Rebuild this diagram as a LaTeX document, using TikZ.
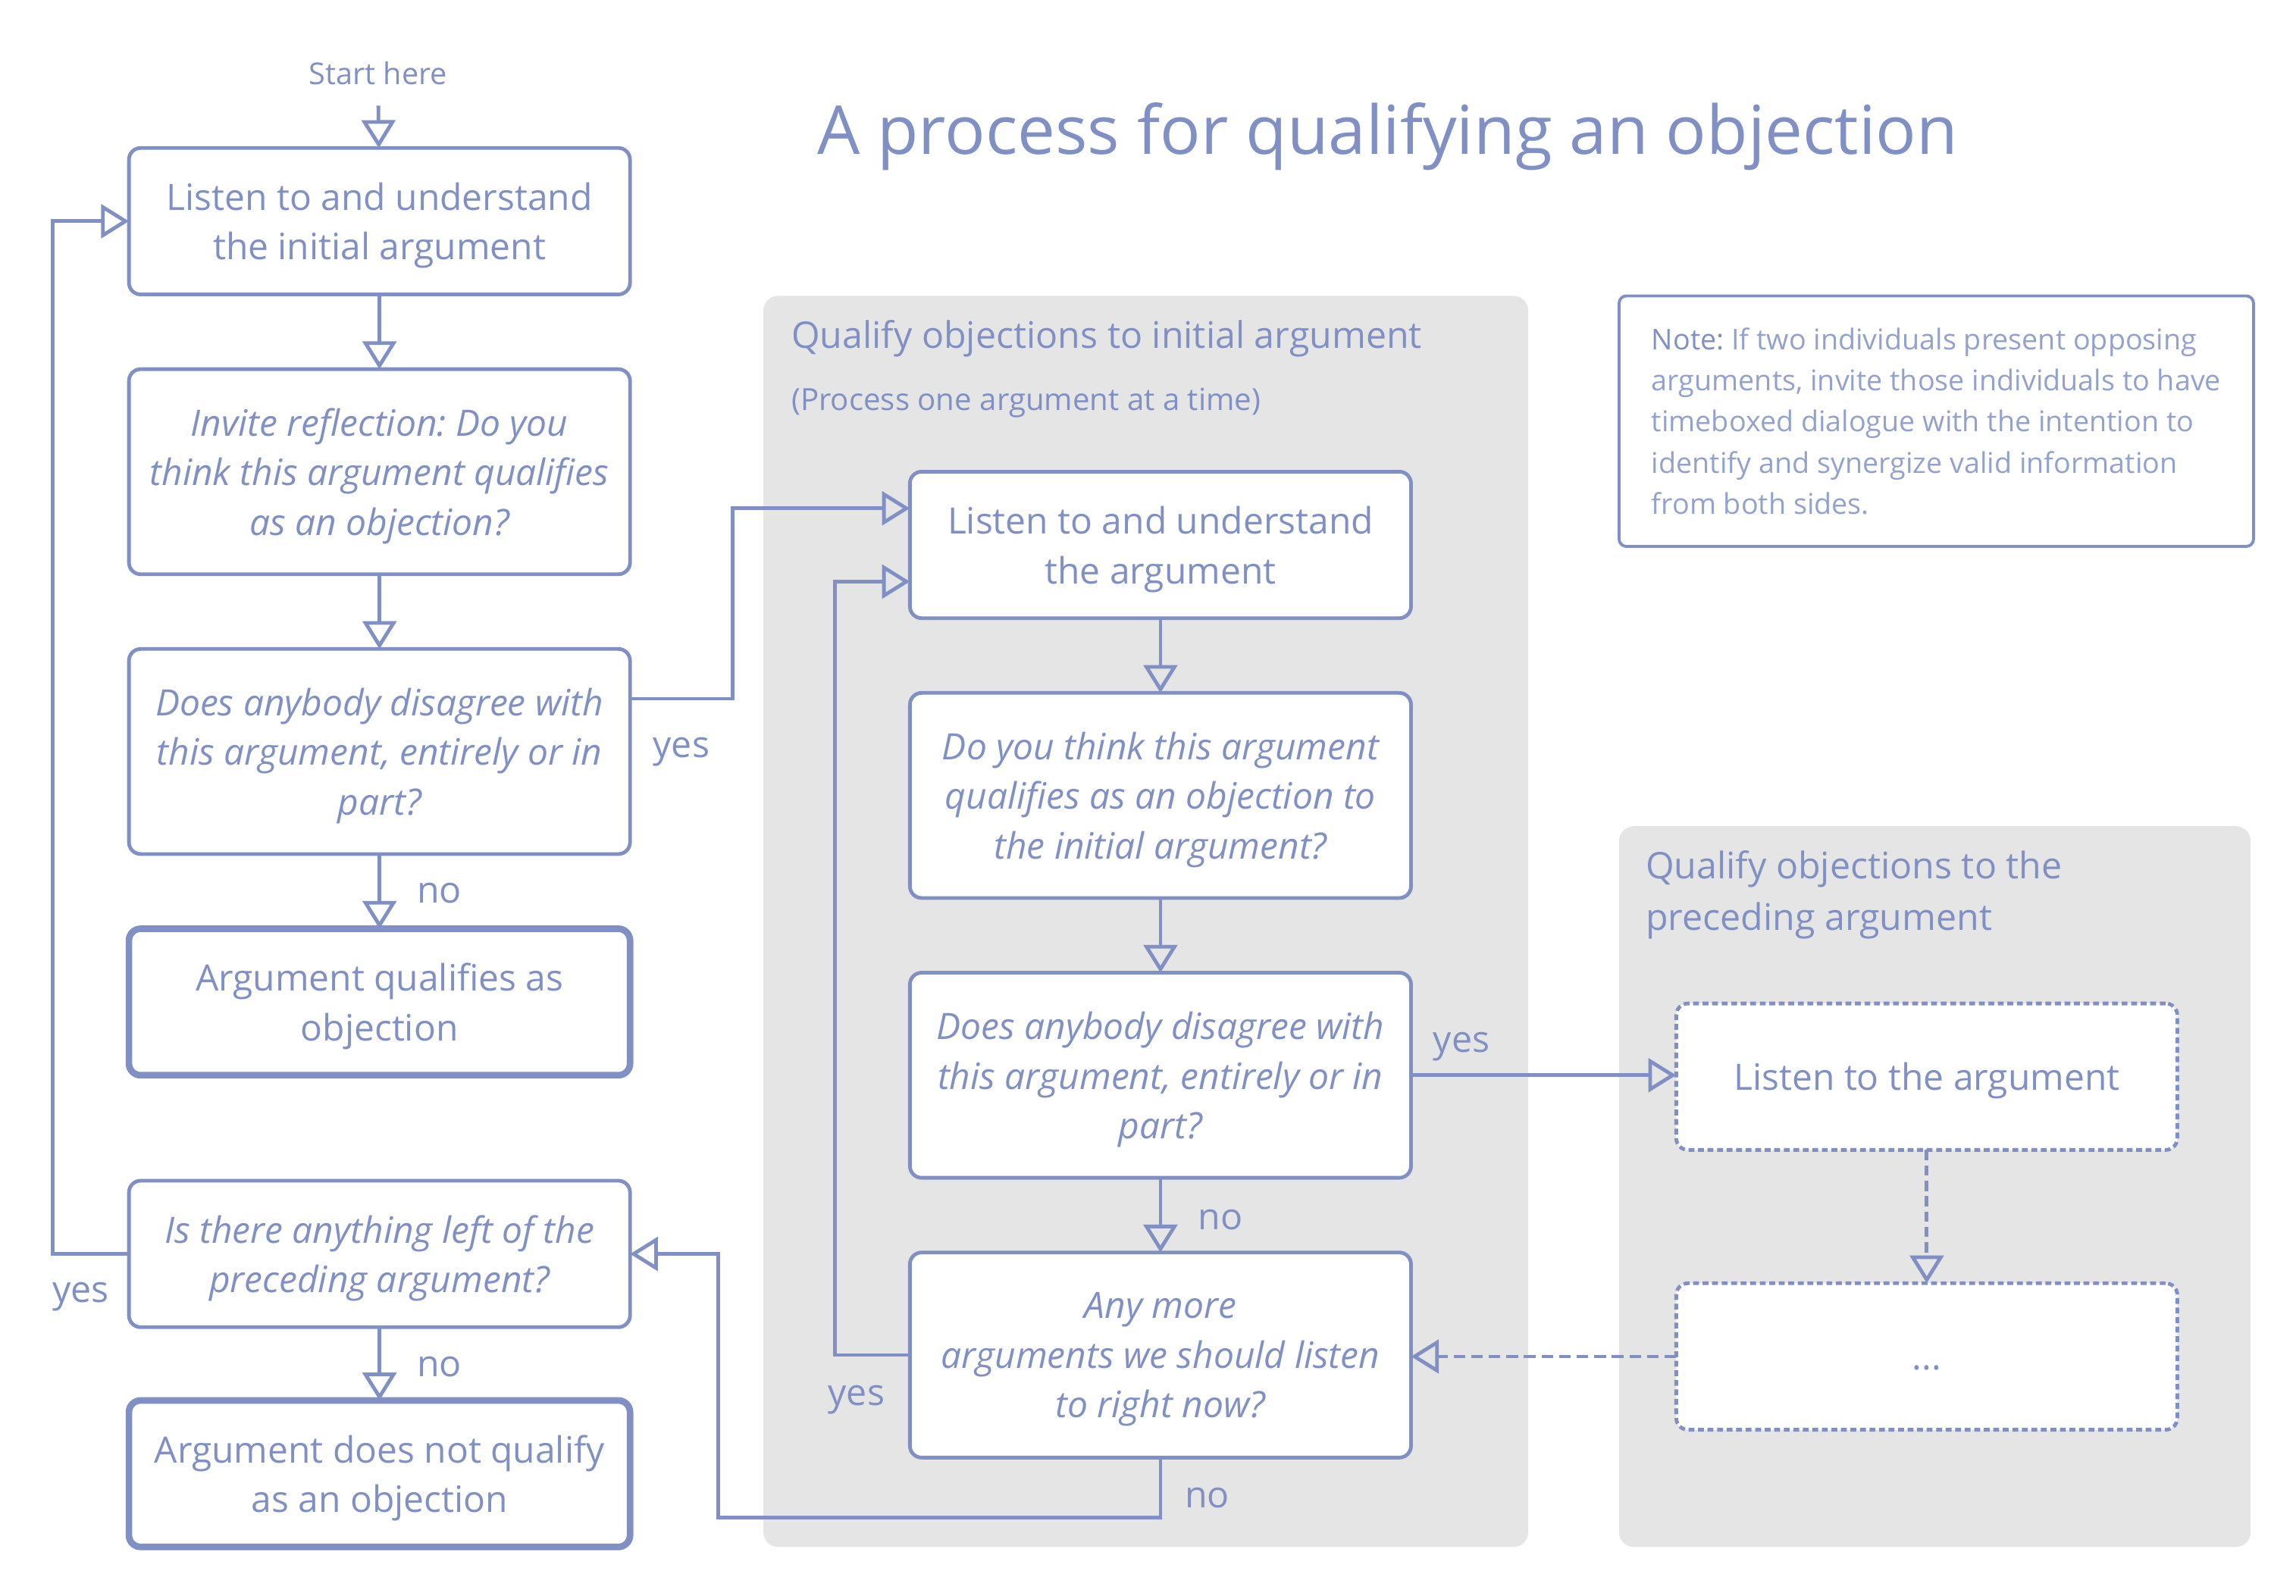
\documentclass[tikz,border=0pt]{standalone}
\usepackage{fontspec}
\setmainfont{Open Sans}
\usetikzlibrary{arrows.meta, positioning}
\definecolor{flowblue}{HTML}{8090C4}
\definecolor{panelgray}{HTML}{E5E5E5}
\tikzset{>={Triangle[open, length = 19pt, width = 23pt]}}
\tikzstyle{stepbox} = [rectangle, rounded corners = 8pt, draw = flowblue, fill = white, line width = 2.5pt, outer sep = 0pt, text = flowblue, minimum width = 342pt, align = center, minimum height = 100pt, text depth = -2pt, font = \fontsize{24.8}{34}\selectfont]
\tikzstyle{question} = [stepbox, minimum height = 140pt, font = \fontsize{24.8}{34}\selectfont\itshape]
\tikzstyle{outcome} = [stepbox, line width = 4.5pt]
\tikzstyle{laterbox} = [stepbox, dash pattern = on 4pt off 2.5pt]
\tikzstyle{answer} = [text = flowblue, font = \fontsize{25}{34}\selectfont]
\tikzstyle{flow} = [->, draw = flowblue, line width = 2.5pt]

\begin{document}
\frenchspacing
\begin{tikzpicture}[x = 1pt, y = -1pt]
    \useasboundingbox (0,0) rectangle (1567,1089);
    \fill [panelgray, rounded corners = 10pt] (521,202) rectangle (1043,1056);
    \fill [panelgray, rounded corners = 10pt] (1105,564) rectangle (1536,1056);

    \node (title) at (947,93) [text = flowblue, font = \fontsize{46}{56}\selectfont] {A process for qualifying an objection};
    \node (startHere) at (258,50) [text = flowblue, inner ysep = 14pt, font = \fontsize{20.5}{26}\selectfont] {Start here};
    \node (panelInitial) at (540,231) [anchor = west, inner sep = 0pt, text = flowblue, font = \fontsize{25}{34}\selectfont] {Qualify objections to initial argument};
    \node (panelNote) at (540,275) [anchor = west, inner sep = 0pt, text = flowblue, font = \fontsize{20.8}{26}\selectfont] {(Process one argument at a time)};
    \node (panelPreceding) at (1123,611) [anchor = west, inner sep = 0pt, align = left, text = flowblue, font = \fontsize{25}{35}\selectfont] {Qualify objections to the\\preceding argument};
    \node (note) at (1104,201) [anchor = north west, draw = flowblue, line width = 2pt, rounded corners = 5pt, text = flowblue!85, minimum width = 433pt, minimum height = 171pt, align = left, font = \fontsize{19.5}{28}\selectfont] {\textcolor{flowblue}{Note:} If two individuals present opposing\\arguments, invite those individuals to have\\timeboxed dialogue with the intention to\\identify and synergize valid information\\from both sides.};

    % left column
    \node (listenInitial) [stepbox] at (259,151) {Listen to and understand\\the initial argument};
    \node (inviteReflection) [question, below = 51pt of listenInitial] {Invite reflection: Do you\\think this argument qualifies\\as an objection?};
    \node (disagreeInitial) [question, below = 51pt of inviteReflection] {Does anybody disagree with\\this argument, entirely or in\\part?};
    \node (qualifies) [outcome, below = 51pt of disagreeInitial] {Argument qualifies as\\objection};
    \node (anythingLeft) [question, minimum height = 100pt] at (259,856) {Is there anything left of the\\preceding argument?};
    \node (notQualify) [outcome, below = 50pt of anythingLeft] {Argument does not qualify\\as an objection};

    % middle column
    \node (listenArg) [stepbox] at (792,372) {Listen to and understand\\the argument};
    \node (thinkQualifies) [question, below = 51pt of listenArg] {Do you think this argument\\qualifies as an objection to\\the initial argument?};
    \node (disagreeArg) [question, below = 51pt of thinkQualifies] {Does anybody disagree with\\this argument, entirely or in\\part?};
    \node (anyMore) [question, below = 51pt of disagreeArg] {Any more\\arguments we should listen\\to right now?};

    % right column
    \node (listenPreceding) [laterbox] at (1315,735) {Listen to the argument};
    \node (moreSteps) [laterbox, below = 91pt of listenPreceding] {\vphantom{Ag}...};

    \coordinate (noTurn) at (490,1036);

    \draw [flow] (startHere) -- (listenInitial);
    \draw [flow] (listenInitial) -- (inviteReflection);
    \draw [flow] (inviteReflection) -- (disagreeInitial);
    \draw [flow] (disagreeInitial) -- node [answer, right = 21pt, yshift = -1pt] {no} (qualifies);
    \draw [flow] (anythingLeft) -- node [answer, right = 21pt, yshift = -2pt] {no} (notQualify);
    \draw [flow] (anythingLeft.west) -- node [answer, below = 15pt, xshift = -7pt] {yes} ++(-52,0) |- (listenInitial.west);
    \draw [flow] ([yshift = 36pt]disagreeInitial.east) -- node [answer, below = 22pt] {yes} ++(70,0) |- ([yshift = 25pt]listenArg.west);

    \draw [flow] (listenArg) -- (thinkQualifies);
    \draw [flow] (thinkQualifies) -- (disagreeArg);
    \draw [flow] (disagreeArg) -- node [answer, right = 21pt, yshift = -3pt] {no} (anyMore);
    \draw [flow] (anyMore.west) -- node [answer, below = 16pt, xshift = -11pt] {yes} ++(-51,0) |- ([yshift = -25pt]listenArg.west);
    \draw [flow] (anyMore.south) -- node [answer, right = 12pt, yshift = -7pt] {no} (anyMore.south |- noTurn) -- (noTurn) |- (anythingLeft.east);
    \draw [flow] (disagreeArg.east) -- node [answer, above = 5pt, pos = 0.19] {yes} (disagreeArg.east -| listenPreceding.west);

    \draw [flow, dash pattern = on 7pt off 3.5pt] (listenPreceding) -- (moreSteps);
    \draw [flow, dash pattern = on 8pt off 4pt] (moreSteps.west) -- (moreSteps.west -| anyMore.east);
\end{tikzpicture}
\end{document}
